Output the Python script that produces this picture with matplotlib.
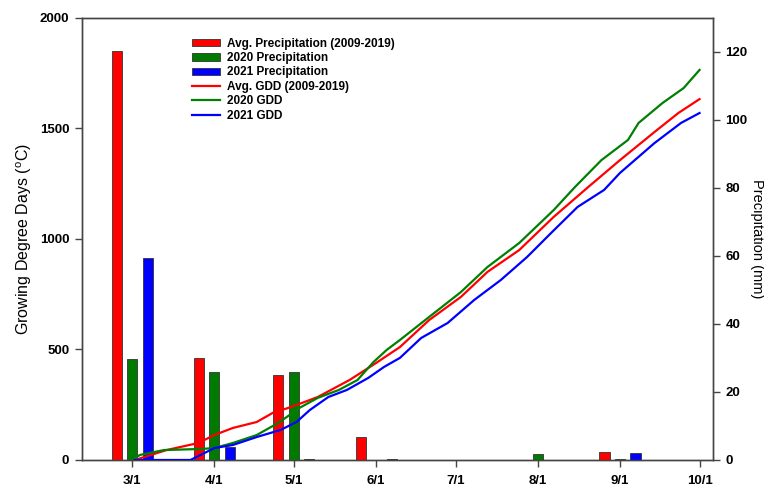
import matplotlib
matplotlib.use("Agg")
import matplotlib.pyplot as plt
import numpy as np
from matplotlib.patches import Patch
from matplotlib.lines import Line2D

plt.rcParams['font.family'] = ['Liberation Sans', 'DejaVu Sans']
plt.rcParams['mathtext.fontset'] = 'custom'
plt.rcParams['mathtext.rm'] = 'Liberation Sans'

# x values = days since March 1
month_labels = ["3/1", "4/1", "5/1", "6/1", "7/1", "8/1", "9/1", "10/1"]
month_days = [0, 31, 61, 92, 122, 153, 184, 214]

# Monthly precipitation (mm), Mar..Sep
precip_avg = [120.3, 30.0, 25.0, 6.7, 0.1, 0.0, 2.4]
precip_2020 = [29.6, 25.9, 26.0, 0.1, 0.1, 1.8, 0.2]
precip_2021 = [59.5, 3.8, 0.3, 0.3, 0.1, 0.1, 2.1]

# GDD curves
gdd_avg_day = [1, 13, 25, 31, 38, 47, 53, 60, 70, 82, 92, 101, 112, 124, 134, 146, 159, 172, 184, 197, 206, 214]
gdd_avg = [0, 45, 77, 113, 145, 172, 213, 240, 285, 362, 439, 511, 633, 738, 851, 950, 1100, 1235, 1357, 1484, 1570, 1633]

gdd_2020_day = [1, 3, 12, 26, 31, 38, 47, 55, 61, 63, 70, 78, 85, 91, 96, 101, 112, 124, 134, 146, 159, 167, 177, 187, 191, 200, 208, 214]
gdd_2020 = [9, 23, 45, 50, 54, 77, 113, 167, 217, 235, 281, 317, 362, 443, 498, 543, 647, 760, 873, 982, 1131, 1235, 1357, 1448, 1525, 1615, 1683, 1765]

gdd_2021_day = [1, 22, 31, 38, 47, 56, 62, 67, 74, 81, 89, 95, 101, 109, 119, 129, 139, 149, 158, 168, 178, 184, 197, 207, 214]
gdd_2021 = [0, 0, 54, 68, 104, 136, 172, 226, 285, 317, 371, 421, 462, 552, 620, 724, 814, 919, 1027, 1145, 1222, 1299, 1434, 1525, 1570]

fig = plt.figure(figsize=(7.64, 4.86), dpi=100)
ax = fig.add_axes([0.107, 0.0535, 0.826, 0.9095])
ax2 = ax.twinx()

bar_w = 3.8
off = 5.85
centers = np.array(month_days[:7], dtype=float)
ec = '#333333'
ax2.bar(centers - off, precip_avg, width=bar_w, color='#ff0000', edgecolor=ec, linewidth=0.6, zorder=2)
ax2.bar(centers, precip_2020, width=bar_w, color='#007a00', edgecolor=ec, linewidth=0.6, zorder=2)
ax2.bar(centers + off, precip_2021, width=bar_w, color='#0000ff', edgecolor=ec, linewidth=0.6, zorder=2)

ax2.plot(gdd_avg_day, np.array(gdd_avg) * 130 / 2000, color='#ff0000', lw=1.6, zorder=3)
ax2.plot(gdd_2020_day, np.array(gdd_2020) * 130 / 2000, color='#008000', lw=1.6, zorder=3)
ax2.plot(gdd_2021_day, np.array(gdd_2021) * 130 / 2000, color='#0000ff', lw=1.6, zorder=3)

ax.set_xlim(-19, 219)
ax.set_ylim(0, 2000)
ax2.set_ylim(0, 130)

ax.set_xticks(month_days)
ax.set_xticklabels(month_labels, fontweight='bold', fontsize=9.5)
ax.set_yticks([0, 500, 1000, 1500, 2000])
ax.set_yticklabels(['0', '500', '1000', '1500', '2000'], fontweight='bold', fontsize=9.5)
ax2.set_yticks([0, 20, 40, 60, 80, 100, 120])
ax2.set_yticklabels(['0', '20', '40', '60', '80', '100', '120'], fontweight='bold', fontsize=9.5)

for a in (ax, ax2):
    a.tick_params(direction='out', length=5, width=1, color='#444444', pad=4)
    for s in a.spines.values():
        s.set_color('#444444')
        s.set_linewidth(1.0)
ax.tick_params(axis='x', pad=6)

ax.set_ylabel(r'Growing Degree Days ($^{\mathrm{o}}$C)', fontsize=11.5, labelpad=4)
ax2.set_ylabel('Precipitation (mm)', fontsize=10.5, rotation=270, labelpad=2, va='bottom')

handles = [
    Patch(facecolor='#ff0000', edgecolor=ec, linewidth=0.6),
    Patch(facecolor='#007a00', edgecolor=ec, linewidth=0.6),
    Patch(facecolor='#0000ff', edgecolor=ec, linewidth=0.6),
    Line2D([], [], color='#ff0000', lw=1.6),
    Line2D([], [], color='#008000', lw=1.6),
    Line2D([], [], color='#0000ff', lw=1.6),
]
labels = ["Avg. Precipitation (2009-2019)", "2020 Precipitation", "2021 Precipitation",
          "Avg. GDD (2009-2019)", "2020 GDD", "2021 GDD"]
leg = ax2.legend(handles, labels, loc='upper left', bbox_to_anchor=(0.167, 0.966), frameon=False,
                 prop={'weight': 'bold', 'size': 8.5}, handlelength=2.35, handleheight=0.6,
                 labelspacing=0.2, handletextpad=0.6, borderaxespad=0)

fig.savefig('out.png', dpi=100)
